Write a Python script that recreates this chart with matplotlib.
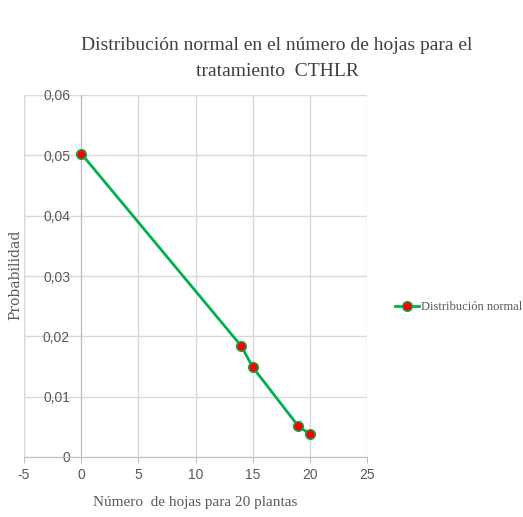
import numpy as np
import matplotlib.pyplot as plt
from matplotlib.ticker import FuncFormatter, MultipleLocator

# values
hojas = [0, 14, 15, 19, 20]
prob = [0.0503, 0.0184, 0.0149, 0.0051, 0.0038]
x_ticks = [-5, 0, 5, 10, 15, 20, 25]

grid_col = '#d9d9d9'
text_col = '#595959'

fig = plt.figure(figsize=(5.23, 5.17), dpi=100)
ax = fig.add_axes([24/523, 60/517, 343/523, 362/517])

ax.plot(hojas, prob, color='#00b050', lw=2, marker='o', ms=7,
        mfc='#ff0000', mec='#00b050', mew=1, label='Distribución normal',
        zorder=3)

ax.set_xlim(-5, 25)
ax.set_ylim(0, 0.06)
ax.set_xticks(x_ticks)
ax.xaxis.set_major_formatter(FuncFormatter(lambda v, p: f'{v:.0f}'))
ax.yaxis.set_major_locator(MultipleLocator(0.01))

def fmt(v, pos):
    if abs(v) < 1e-9:
        return '0'
    return f'{v:.2f}'.replace('.', ',')
ax.yaxis.set_major_formatter(FuncFormatter(fmt))

ax.grid(True, color=grid_col, lw=1)
ax.set_axisbelow(True)
for s in ['top', 'right']:
    ax.spines[s].set_visible(False)
ax.spines['left'].set_position(('data', 0))
ax.spines['left'].set_color('#bfbfbf')
ax.spines['bottom'].set_color('#bfbfbf')
# left edge of the plot area at -5
ax.axvline(-5, color=grid_col, lw=1, zorder=0)

for lab in ax.get_xticklabels() + ax.get_yticklabels():
    lab.set_fontfamily('Liberation Sans')
    lab.set_fontsize(10)
    lab.set_color(text_col)
ax.tick_params(axis='y', length=0, pad=8)
ax.tick_params(axis='x', length=4, color='#bfbfbf', pad=4)

ax.set_xlabel('Número  de hojas para 20 plantas', family='Liberation Serif',
              fontsize=11, color=text_col, labelpad=10)
fig.text(15/523, 1 - 275/517, 'Probabilidad', rotation=90,
         family='DejaVu Serif', fontsize=10, color=text_col,
         ha='center', va='center')

fig.text(277/523, 1 - 45/517, 'Distribución normal en el número de hojas para el',
         family='Liberation Serif', fontsize=14, color='#404040',
         ha='center', va='center')
fig.text(277/523, 1 - 72/517, 'tratamiento  CTHLR',
         family='Liberation Serif', fontsize=14, color='#404040',
         ha='center', va='center')

leg = fig.legend(loc='center left', bbox_to_anchor=(395/523, 1 - 307/517),
                 frameon=False, handlelength=1.9, handletextpad=0.2,
                 borderaxespad=0, borderpad=0,
                 prop={'family': 'Liberation Serif', 'size': 9})
for t in leg.get_texts():
    t.set_color(text_col)

fig.savefig('out.png', dpi=100)
